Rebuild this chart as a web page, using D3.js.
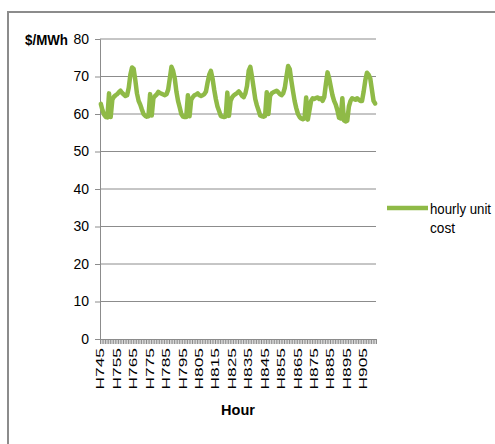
<!DOCTYPE html>
<html>
<head>
<meta charset="utf-8">
<script src="https://cdn.jsdelivr.net/npm/d3@7"></script>
<style>
body { margin: 0; background: #fff; }
svg { display: block; font-family: "Liberation Sans", Arial, sans-serif; }
</style>
</head>
<body>
<svg id="chart" width="495" height="444"></svg>
<script>
// categories: one week of hours, H745 .. H912
const hours = d3.range(745, 913).map(h => "H" + h)
const tickLabels = ["H745", "H755", "H765", "H775", "H785", "H795", "H805", "H815", "H825",
    "H835", "H845", "H855", "H865", "H875", "H885", "H895", "H905"]
const yTicks = [0, 10, 20, 30, 40, 50, 60, 70, 80]

// hourly unit cost ($/MWh)
const day1 = [62.7, 61.0, 59.8, 59.2, 59.1, 65.5, 59.2, 63.8, 64.6, 65.0, 65.3, 65.8,
    66.2, 65.6, 65.2, 64.8, 65.0, 67.0, 70.5, 72.4, 72.0, 69.0, 65.5, 63.5]
const day2 = [62.5, 61.2, 60.0, 59.5, 59.3, 59.4, 65.3, 59.6, 64.2, 64.8, 65.2, 65.9,
    65.6, 65.4, 65.2, 65.0, 65.3, 66.5, 69.5, 72.6, 71.5, 69.5, 66.0, 63.5]
const day3 = [61.8, 60.0, 59.3, 59.2, 59.2, 65.0, 59.4, 63.8, 64.5, 65.0, 65.2, 65.5,
    65.0, 64.8, 65.0, 65.3, 66.0, 68.4, 70.5, 71.5, 69.5, 66.5, 64.0, 62.0]
const day4 = [60.8, 59.5, 59.3, 59.2, 59.3, 65.7, 59.5, 63.5, 64.5, 65.0, 65.3, 65.6,
    66.0, 65.5, 64.8, 64.5, 65.5, 67.5, 71.5, 72.6, 70.0, 67.0, 64.0, 62.3]
const day5 = [61.0, 59.6, 59.4, 59.3, 59.5, 65.8, 60.0, 64.8, 65.5, 65.8, 66.0, 66.2,
    65.8, 65.3, 65.0, 65.5, 67.0, 70.0, 72.8, 72.0, 68.8, 66.0, 63.4, 61.5]
const day6 = [60.0, 59.2, 58.8, 58.6, 58.8, 64.4, 58.5, 61.0, 63.5, 64.2, 64.0, 64.3,
    64.4, 64.0, 64.2, 63.5, 64.5, 68.0, 71.1, 69.5, 67.2, 65.0, 63.5, 62.5]
const day7 = [61.0, 59.0, 58.8, 64.2, 58.3, 58.0, 58.2, 62.0, 63.5, 64.2, 64.0, 63.8,
    64.2, 63.8, 63.5, 63.5, 66.0, 69.0, 71.0, 70.5, 69.5, 66.5, 63.5, 62.8]
const unitCost = day1.concat(day2, day3, day4, day5, day6, day7)

const green = '#8fba47'
const grey = '#8c8c8c'

var svg = d3.select('#chart')

// outer frame (only left and top edges fall inside the window)
svg.append('rect')
    .attr('x', 8).attr('y', 12)
    .attr('width', 520).attr('height', 460)
    .attr('fill', 'none')
    .attr('stroke', grey)
    .attr('stroke-width', 2)

const plotLeft = 100, plotRight = 376, plotTop = 39, plotBottom = 339

var x_scale = d3.scaleBand()
    .domain(hours)
    .range([plotLeft, plotRight])
    .padding(0)

var idx_scale = d3.scaleLinear()
    .domain([0, hours.length])
    .range([plotLeft, plotRight])

var y_scale = d3.scaleLinear()
    .domain([0, 80])
    .range([plotBottom, plotTop])

// gridlines
svg.append('g')
    .selectAll('line')
    .data(yTicks.filter(d => d > 0))
    .enter()
    .append('line')
    .attr('x1', plotLeft).attr('x2', plotRight)
    .attr('y1', d => y_scale(d)).attr('y2', d => y_scale(d))
    .attr('stroke', grey)
    .attr('stroke-width', 1)

// y axis
var y_axis = d3.axisLeft(y_scale)
    .tickValues(yTicks)
    .tickSize(5)
    .tickPadding(6)
var gy = svg.append('g')
    .attr('transform', `translate(${plotLeft},0)`)
    .call(y_axis)
gy.selectAll('path, line').attr('stroke', grey)
gy.selectAll('text')
    .attr('font-size', 14)
    .attr('fill', '#000')
    .attr('font-family', '"Liberation Sans", Arial, sans-serif')

// x axis: a tick on every category boundary
var tick_axis = d3.axisBottom(idx_scale)
    .tickValues(d3.range(0, hours.length + 1))
    .tickSize(5)
    .tickFormat('')
var gx = svg.append('g')
    .attr('transform', `translate(0,${plotBottom})`)
    .call(tick_axis)
gx.selectAll('path, line').attr('stroke', grey)

// x labels, every tenth hour, rotated
var label_axis = d3.axisBottom(x_scale)
    .tickValues(tickLabels)
    .tickSize(0)
var gl = svg.append('g')
    .attr('transform', `translate(0,${plotBottom})`)
    .call(label_axis)
gl.select('.domain').remove()
gl.selectAll('text')
    .attr('font-size', 10.5)
    .attr('fill', '#000')
    .attr('font-family', '"Liberation Sans", Arial, sans-serif')
    .attr('text-anchor', 'end')
    .attr('y', 0).attr('dy', '0.35em')
    .attr('transform', 'translate(0,9) rotate(-90) scale(1.65,1)')

// series line
var line = d3.line()
    .x((d, i) => x_scale(hours[i]) + x_scale.bandwidth() / 2)
    .y(d => y_scale(d))

svg.append('path')
    .attr('d', line(unitCost))
    .attr('fill', 'none')
    .attr('stroke', green)
    .attr('stroke-width', 4.5)
    .attr('stroke-linejoin', 'round')
    .attr('stroke-linecap', 'round')

// axis titles
svg.append('text')
    .attr('x', 25).attr('y', 45)
    .attr('font-size', 14)
    .attr('font-weight', 'bold')
    .attr('textLength', 43)
    .attr('lengthAdjust', 'spacingAndGlyphs')
    .text('$/MWh')

svg.append('text')
    .attr('x', 238).attr('y', 415)
    .attr('text-anchor', 'middle')
    .attr('font-size', 14.5)
    .attr('font-weight', 'bold')
    .text('Hour')

// legend
svg.append('line')
    .attr('x1', 387).attr('x2', 428)
    .attr('y1', 208).attr('y2', 208)
    .attr('stroke', green)
    .attr('stroke-width', 4.5)

svg.append('text')
    .attr('x', 430).attr('y', 214)
    .attr('font-size', 14.5)
    .attr('textLength', 61)
    .attr('lengthAdjust', 'spacingAndGlyphs')
    .text('hourly unit')
svg.append('text')
    .attr('x', 430).attr('y', 233)
    .attr('font-size', 14.5)
    .attr('textLength', 25)
    .attr('lengthAdjust', 'spacingAndGlyphs')
    .text('cost')
</script>
</body>
</html>
